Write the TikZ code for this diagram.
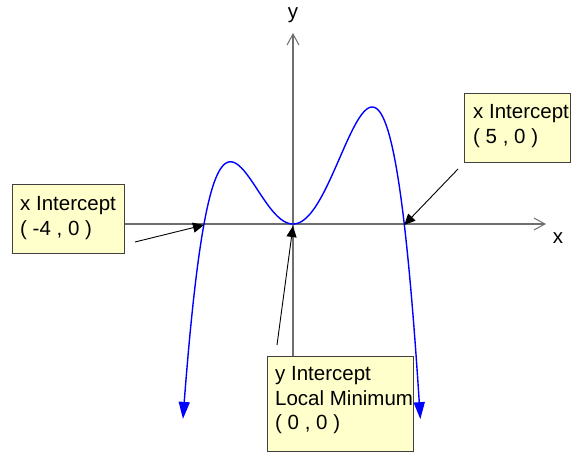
\documentclass[tikz,border=0pt]{standalone}
\usepackage{fontspec}
\setmainfont{Liberation Sans}
\usetikzlibrary{positioning,arrows.meta}
\definecolor{notefill}{RGB}{255,255,204}
\definecolor{axisgray}{RGB}{110,110,110}
\tikzset{
  axis/.style={line width=1.4pt,axisgray,-{Straight Barb[length=11pt,width=12pt,line width=1pt]}},
  curve/.style={line width=1.4pt,blue,{Triangle[length=17pt,width=11pt]}-{Triangle[length=17pt,width=11pt]}},
  callout/.style={line width=0.9pt,black,-{Triangle[length=11pt,width=10pt]}},
  note/.style={draw=black!75,line width=1.2pt,fill=notefill,anchor=north west,inner sep=0pt},
  notetext/.style={anchor=north west,align=left,inner sep=0pt,font=\fontsize{20.5}{24.5}\selectfont},
  lab/.style={font=\fontsize{20.5}{24.5}\selectfont,inner sep=0pt}
}
\begin{document}
\begin{tikzpicture}[x=1pt,y=1pt]
  \useasboundingbox (-293,-228) rectangle (279,224);
  % axes
  \coordinate (xl) at (-281,0); \coordinate (xr) at (253,0);
  \coordinate (yt) at (0,191); \coordinate (yb) at (0,-132);
  \draw[axis] (xl) -- (xr);
  \draw[axis] (yb) -- (yt);
  \node[lab] (xlab) at (265,-14) {x};
  \node[lab] (ylab) at (0,209) {y};
  % the quartic, roots at -4, 0 (double), 5
  \begin{scope}[x=22.25pt,y=0.848pt]
    \draw[curve] plot[domain=-4.945:5.725,samples=160,smooth] (\x,{-\x*\x*(\x+4)*(\x-5)});
    \coordinate (r1) at (-4,0); \coordinate (r0) at (0,0); \coordinate (r2) at (5,0);
  \end{scope}
  % notes
  \node[note,minimum width=112pt,minimum height=69pt] (xneg) at (-281,40) {};
  \node[note,minimum width=106pt,minimum height=69pt] (xpos) at (171,131) {};
  \node[note,minimum width=146pt,minimum height=95pt] (ymin) at (-26,-132) {};
  \node[notetext] (xnegtext) at ([shift={(8,-12.3)}]xneg.north west) {x Intercept\\( -4 , 0 )};
  \node[notetext] (xpostext) at ([shift={(9,-11.3)}]xpos.north west) {x Intercept\\( 5 , 0 )};
  \node[notetext] (ymintext) at ([shift={(8,-10.3)}]ymin.north west) {y Intercept\\Local Minimum\\( 0 , 0 )};
  % pointers
  \coordinate (p1) at (-158,-18); \coordinate (p2) at (165,55); \coordinate (p3) at (-16,-121);
  \draw[callout] (p1) -- ([yshift=-1pt]r1);
  \draw[callout] (p2) -- ([yshift=-1pt]r2);
  \draw[callout] (p3) -- ([yshift=-2pt]r0);
\end{tikzpicture}
\end{document}
